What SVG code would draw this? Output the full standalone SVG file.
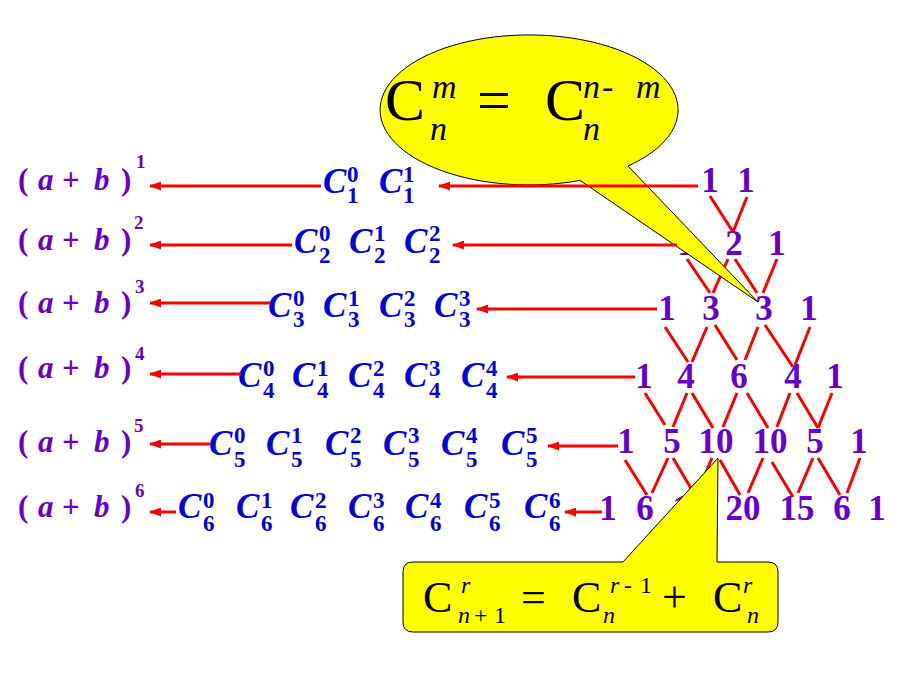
<svg xmlns="http://www.w3.org/2000/svg" width="920" height="690" viewBox="0 0 920 690">
<defs>
<style>
.ab{font-family:"Liberation Serif",serif;font-weight:bold;font-size:31px;fill:#6600CC}
.abs{font-size:19px}
.it{font-style:italic}
.cb{font-family:"Liberation Serif",serif;font-weight:bold;font-size:23px;fill:#0000DD}
.cc{font-style:italic;font-size:35px}
.tn{font-family:"Liberation Serif",serif;font-weight:bold;font-size:35px;fill:#6600CC;text-anchor:middle}
.tl{stroke:#FF0000;stroke-width:3;fill:none}
.ar{stroke:#FF0000;stroke-width:3;fill:none;marker-end:url(#ah)}
.co{fill:#FFFF00;stroke:#000;stroke-width:1}
.f1{font-family:"Liberation Serif",serif;font-size:60px;fill:#000}
.s1{font-size:34px;font-style:italic}
.f2{font-family:"Liberation Serif",serif;font-size:44px;fill:#000}
.s2{font-size:24px}
</style>
<marker id="ah" markerUnits="userSpaceOnUse" markerWidth="12" markerHeight="9" refX="11" refY="4.5" orient="auto">
<path d="M0,0 L12,4.5 L0,9 Z" fill="#FF0000"/>
</marker>
</defs>
<rect width="920" height="690" fill="#FFFFFF"/>

<g id="expansions">
<text id="ab1" class="ab" y="190"><tspan x="18">(</tspan><tspan x="38" class="it">a</tspan><tspan x="62">+</tspan><tspan x="94" class="it">b</tspan><tspan x="121">)</tspan><tspan class="abs" x="136" y="168">1</tspan></text>
<text id="ab2" class="ab" y="250"><tspan x="18">(</tspan><tspan x="38" class="it">a</tspan><tspan x="62">+</tspan><tspan x="94" class="it">b</tspan><tspan x="121">)</tspan><tspan class="abs" x="134" y="229">2</tspan></text>
<text id="ab3" class="ab" y="313"><tspan x="18">(</tspan><tspan x="38" class="it">a</tspan><tspan x="62">+</tspan><tspan x="94" class="it">b</tspan><tspan x="121">)</tspan><tspan class="abs" x="135" y="293">3</tspan></text>
<text id="ab4" class="ab" y="378"><tspan x="18">(</tspan><tspan x="38" class="it">a</tspan><tspan x="62">+</tspan><tspan x="94" class="it">b</tspan><tspan x="121">)</tspan><tspan class="abs" x="135" y="360">4</tspan></text>
<text id="ab5" class="ab" y="452"><tspan x="18">(</tspan><tspan x="38" class="it">a</tspan><tspan x="62">+</tspan><tspan x="94" class="it">b</tspan><tspan x="121">)</tspan><tspan class="abs" x="134" y="432">5</tspan></text>
<text id="ab6" class="ab" y="517"><tspan x="18">(</tspan><tspan x="38" class="it">a</tspan><tspan x="62">+</tspan><tspan x="94" class="it">b</tspan><tspan x="121">)</tspan><tspan class="abs" x="135" y="497">6</tspan></text>
</g>

<g id="combinations">
<text id="comb1" class="cb">
<tspan class="cc" x="323" y="193">C</tspan><tspan x="347" y="182">0</tspan><tspan x="347" y="203">1</tspan>
<tspan class="cc" x="379" y="193">C</tspan><tspan x="403" y="182">1</tspan><tspan x="403" y="203">1</tspan>
</text>
<text id="comb2" class="cb">
<tspan class="cc" x="294" y="253">C</tspan><tspan x="319" y="241">0</tspan><tspan x="319" y="263">2</tspan>
<tspan class="cc" x="349" y="253">C</tspan><tspan x="374" y="241">1</tspan><tspan x="374" y="263">2</tspan>
<tspan class="cc" x="404" y="253">C</tspan><tspan x="429" y="241">2</tspan><tspan x="429" y="263">2</tspan>
</text>
<text id="comb3" class="cb">
<tspan class="cc" x="268" y="317">C</tspan><tspan x="293" y="306">0</tspan><tspan x="293" y="327">3</tspan>
<tspan class="cc" x="323" y="317">C</tspan><tspan x="348" y="306">1</tspan><tspan x="348" y="327">3</tspan>
<tspan class="cc" x="379" y="317">C</tspan><tspan x="404" y="306">2</tspan><tspan x="404" y="327">3</tspan>
<tspan class="cc" x="434" y="317">C</tspan><tspan x="459" y="306">3</tspan><tspan x="459" y="327">3</tspan>
</text>
<text id="comb4" class="cb">
<tspan class="cc" x="238" y="387">C</tspan><tspan x="263" y="376">0</tspan><tspan x="263" y="398">4</tspan>
<tspan class="cc" x="292" y="387">C</tspan><tspan x="317" y="376">1</tspan><tspan x="317" y="398">4</tspan>
<tspan class="cc" x="348" y="387">C</tspan><tspan x="373" y="376">2</tspan><tspan x="373" y="398">4</tspan>
<tspan class="cc" x="404" y="387">C</tspan><tspan x="429" y="376">3</tspan><tspan x="429" y="398">4</tspan>
<tspan class="cc" x="461" y="387">C</tspan><tspan x="486" y="376">4</tspan><tspan x="486" y="398">4</tspan>
</text>
<text id="comb5" class="cb">
<tspan class="cc" x="209" y="455">C</tspan><tspan x="234" y="443">0</tspan><tspan x="234" y="467">5</tspan>
<tspan class="cc" x="266" y="455">C</tspan><tspan x="291" y="443">1</tspan><tspan x="291" y="467">5</tspan>
<tspan class="cc" x="325" y="455">C</tspan><tspan x="350" y="443">2</tspan><tspan x="350" y="467">5</tspan>
<tspan class="cc" x="383" y="455">C</tspan><tspan x="408" y="443">3</tspan><tspan x="408" y="467">5</tspan>
<tspan class="cc" x="441" y="455">C</tspan><tspan x="466" y="443">4</tspan><tspan x="466" y="467">5</tspan>
<tspan class="cc" x="501" y="455">C</tspan><tspan x="526" y="443">5</tspan><tspan x="526" y="467">5</tspan>
</text>
<text id="comb6" class="cb">
<tspan class="cc" x="178" y="518">C</tspan><tspan x="203" y="508">0</tspan><tspan x="203" y="531">6</tspan>
<tspan class="cc" x="236" y="518">C</tspan><tspan x="261" y="508">1</tspan><tspan x="261" y="531">6</tspan>
<tspan class="cc" x="290" y="518">C</tspan><tspan x="315" y="508">2</tspan><tspan x="315" y="531">6</tspan>
<tspan class="cc" x="348" y="518">C</tspan><tspan x="373" y="508">3</tspan><tspan x="373" y="531">6</tspan>
<tspan class="cc" x="405" y="518">C</tspan><tspan x="430" y="508">4</tspan><tspan x="430" y="531">6</tspan>
<tspan class="cc" x="464" y="518">C</tspan><tspan x="489" y="508">5</tspan><tspan x="489" y="531">6</tspan>
<tspan class="cc" x="524" y="518">C</tspan><tspan x="549" y="508">6</tspan><tspan x="549" y="531">6</tspan>
</text>
</g>

<g id="triangle-lines">
<path class="tl" d="M710,196 L733,232 M747,197 L733,232"/>
<path class="tl" d="M687,259 L710,293 M728,259 L713,293 M735,259 L757,293 M777,259 L763,293"/>
<path class="tl" d="M665,327 L688,362 M707,327 L692,362 M715,325 L737,360 M758,327 L745,360 M765,325 L793,367 M810,327 L795,365"/>
<path class="tl" d="M645,393 L665,425 M687,393 L673,427 M692,393 L713,428 M737,393 L723,427 M747,393 L768,428 M790,393 L777,427 M797,393 L818,428 M832,393 L818,428"/>
<path class="tl" d="M625,460 L647,495 M668,458 L652,493 M673,458 L692,490 M712,458 L697,493 M720,460 L740,495 M763,458 L748,493 M772,462 L793,497 M813,458 L798,493 M818,458 L840,495 M860,458 L847,493"/>
</g>

<g id="triangle">
<g id="row1"><text class="tn" x="710" y="192">1</text><text class="tn" x="746" y="192">1</text></g>
<g id="row2"><text class="tn" x="686" y="255">1</text><text class="tn" x="734" y="255">2</text><text class="tn" x="777" y="255">1</text></g>
<g id="row3"><text class="tn" x="667" y="320">1</text><text class="tn" x="711" y="320">3</text><text class="tn" x="764" y="320">3</text><text class="tn" x="809" y="320">1</text></g>
<g id="row4"><text class="tn" x="644" y="388">1</text><text class="tn" x="686" y="388">4</text><text class="tn" x="739" y="388">6</text><text class="tn" x="793" y="388">4</text><text class="tn" x="835" y="388">1</text></g>
<g id="row5"><text class="tn" x="626" y="453">1</text><text class="tn" x="672" y="453">5</text><text class="tn" x="716" y="453">10</text><text class="tn" x="770" y="453">10</text><text class="tn" x="815" y="453">5</text><text class="tn" x="859" y="453">1</text></g>
<g id="row6"><text class="tn" x="608" y="520">1</text><text class="tn" x="645" y="520">6</text><text class="tn" x="690" y="520">15</text><text class="tn" x="743" y="520">20</text><text class="tn" x="797" y="520">15</text><text class="tn" x="842" y="520">6</text><text class="tn" x="877" y="520">1</text></g>
</g>

<g id="callout-symmetry">
<path class="co" d="M580,180.4 A149,75 0 1,1 628,166 L758,302 Z"/>
<text class="f1"><tspan x="385" y="120">C</tspan><tspan class="s1" x="432" y="98">m</tspan><tspan class="s1" x="430" y="140">n</tspan><tspan x="477" y="120">=</tspan><tspan x="545" y="120">C</tspan><tspan class="s1" x="583" y="98">n</tspan><tspan class="s1" x="602" y="98" font-style="normal">-</tspan><tspan class="s1" x="636" y="98">m</tspan><tspan class="s1" x="583" y="140">n</tspan></text>
</g>

<g id="callout-recurrence">
<path class="co" d="M413,562 L623,562 L718,458 L717,562 L768,562 Q778,562 778,572 L778,622 Q778,632 768,632 L413,632 Q403,632 403,622 L403,572 Q403,562 413,562 Z"/>
<text class="f2"><tspan x="423" y="612">C</tspan><tspan class="s2 it" x="461" y="593">r</tspan><tspan class="s2 it" x="458" y="623">n</tspan><tspan class="s2" x="474" y="623">+</tspan><tspan class="s2" x="494" y="623">1</tspan><tspan x="521" y="612">=</tspan><tspan x="572" y="612">C</tspan><tspan class="s2 it" x="610" y="593">r</tspan><tspan class="s2" x="624" y="593">-</tspan><tspan class="s2" x="640" y="593">1</tspan><tspan class="s2 it" x="603" y="623">n</tspan><tspan x="662" y="612">+</tspan><tspan x="713" y="612">C</tspan><tspan class="s2 it" x="743" y="593">r</tspan><tspan class="s2 it" x="747" y="623">n</tspan></text>
</g>

<g id="connectors">
<line class="ar" x1="321" y1="186" x2="150" y2="186"/>
<line class="ar" x1="292" y1="245" x2="150" y2="245"/>
<line class="ar" x1="270" y1="303" x2="150" y2="303"/>
<line class="ar" x1="241" y1="374" x2="150" y2="374"/>
<line class="ar" x1="211" y1="444" x2="150" y2="444"/>
<line class="ar" x1="176" y1="512" x2="150" y2="512"/>
<line class="ar" x1="698" y1="186" x2="439" y2="186"/>
<line class="ar" x1="677" y1="245" x2="453" y2="245"/>
<line class="ar" x1="657" y1="309" x2="477" y2="309"/>
<line class="ar" x1="635" y1="377" x2="507" y2="377"/>
<line class="ar" x1="618" y1="446" x2="548" y2="446"/>
<line class="ar" x1="602" y1="512" x2="565" y2="512"/>
</g>
</svg>
